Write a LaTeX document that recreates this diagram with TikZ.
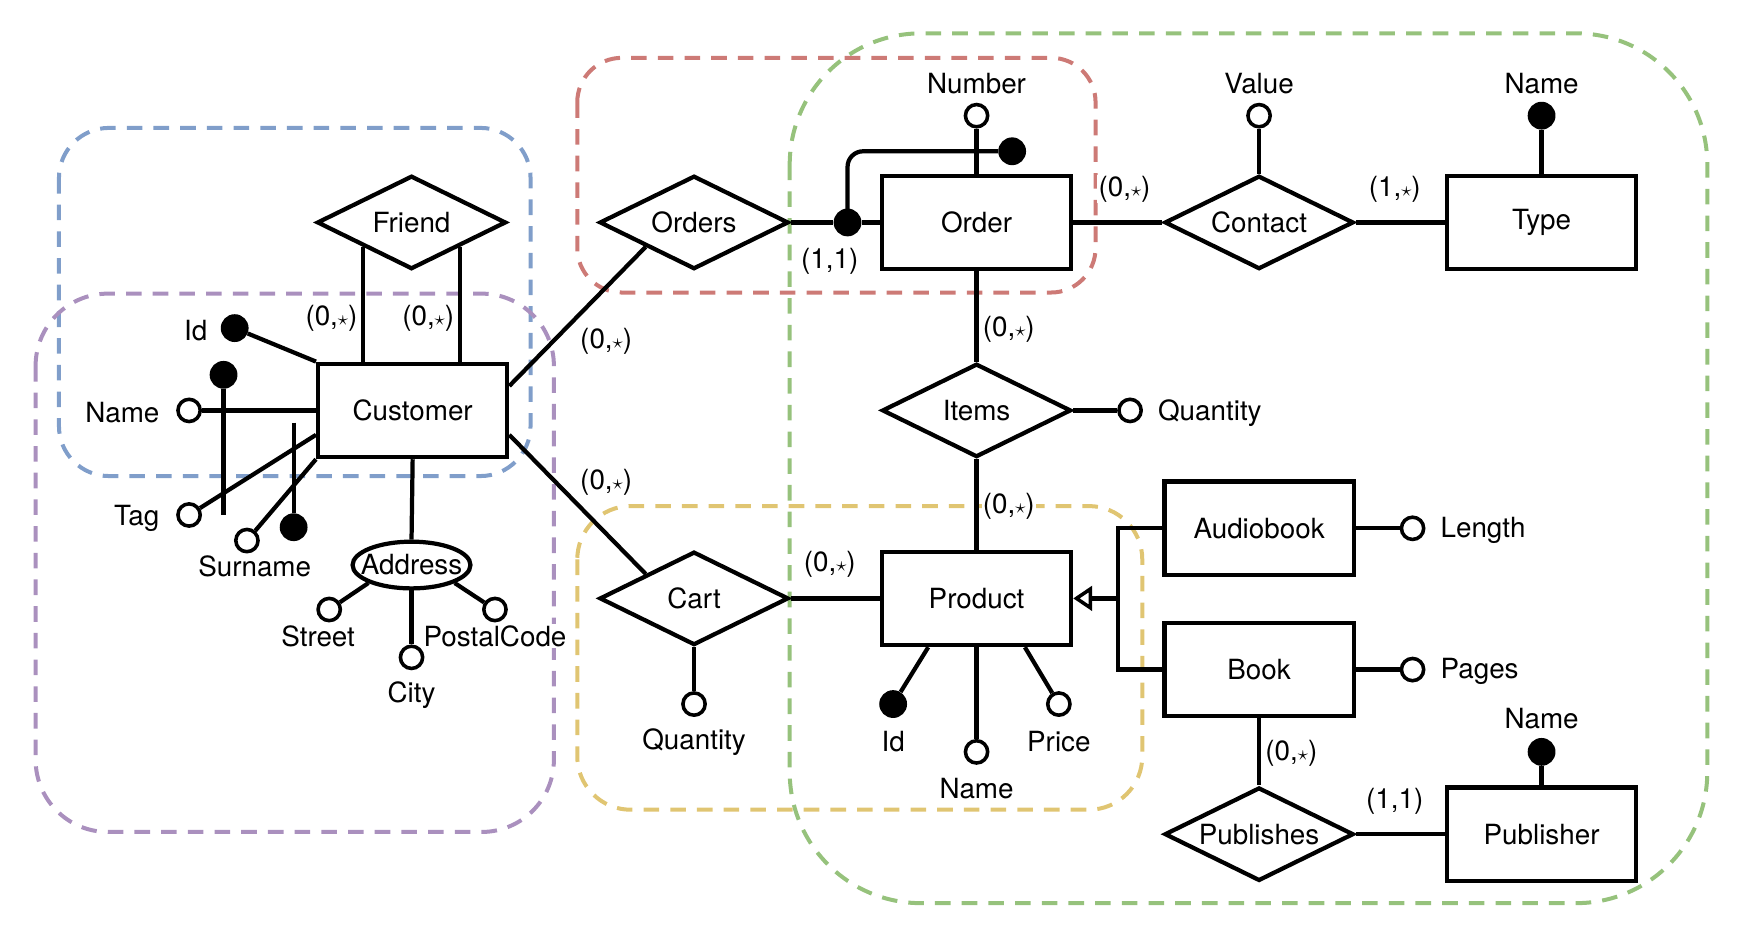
\documentclass[tikz,border=0pt]{standalone}
\usepackage{fontspec}
\usepackage{graphicx}
\setmainfont{TeX Gyre Heros}
\usetikzlibrary{shapes.geometric,arrows.meta,calc}
\definecolor{fblue}{RGB}{128,158,202}
\definecolor{fpurple}{RGB}{170,144,190}
\definecolor{fred}{RGB}{205,122,118}
\definecolor{fgreen}{RGB}{150,194,124}
\definecolor{fyellow}{RGB}{224,197,114}
\newcommand{\cz}{(0,\scalebox{0.75}{$\star$})}
\newcommand{\co}{(1,\scalebox{0.75}{$\star$})}
\begin{document}
\begin{tikzpicture}[x=1pt,y=-1pt,
  every node/.style={font=\fontsize{25}{30}\selectfont},
  ln/.style={line width=3.8pt},
  entity/.style={draw,line width=3.8pt,rectangle,minimum width=170pt,minimum height=84pt,inner sep=0pt},
  rel/.style={draw,line width=3.8pt,diamond,aspect=2,minimum width=170pt,minimum height=84pt,inner sep=0pt},
  oattr/.style={draw,circle,fill=white,line width=3.2pt,minimum size=20pt,inner sep=0pt},
  kattr/.style={circle,fill=black,minimum size=25pt,inner sep=0pt},
  lbl/.style={fill=white,inner sep=1pt},
  frame/.style={line width=3.6pt,dash pattern=on 14pt off 10pt}]
\useasboundingbox (0,0) rectangle (1568,843);
% frames
\draw[frame,fblue,rounded corners=45pt] (53,115) rectangle (477,428);
\draw[frame,fpurple,rounded corners=65pt] (32,264) rectangle (498,748);
\draw[frame,fred,rounded corners=40pt] (519,52) rectangle (985,263);
\draw[frame,fgreen,rounded corners=118pt] (710,30) rectangle (1535,812);
\draw[frame,fyellow,rounded corners=48pt] (519,455) rectangle (1027,728);
% entities
\node[entity] (cust) at (371,369) {Customer};
\node[entity] (order) at (878,200) {Order};
\node[entity] (type) at (1386,200) {Type};
\node[entity] (prod) at (878,538) {Product};
\node[entity] (audio) at (1132,475) {Audiobook};
\node[entity] (book) at (1132,602) {Book};
\node[entity] (pub) at (1386,750) {Publisher};
% relationships
\node[rel] (friend) at (370,200) {Friend};
\node[rel] (orders) at (624,200) {Orders};
\node[rel] (contact) at (1132,200) {Contact};
\node[rel] (items) at (878,369) {Items};
\node[rel] (cart) at (624,538) {Cart};
\node[rel] (publishes) at (1132,750) {Publishes};
% composite attribute
\node[draw,ellipse,line width=3.8pt,minimum width=106pt,minimum height=42pt,inner sep=0pt] (addr) at (370,508) {};
\node (addrt) at (addr.center) {Address};
% attribute circles
\node[kattr] (cid) at (211,295) {};
\node[kattr] (ck1) at (201,337) {};
\node[oattr] (cname) at (170,369) {};
\node[oattr] (ctag) at (170,463) {};
\node[oattr] (csur) at (222,486) {};
\node[kattr] (ck2) at (264,474) {};
\node[oattr] (street) at (296,548) {};
\node[oattr] (city) at (370,591) {};
\node[oattr] (postal) at (445,548) {};
\node[oattr] (onum) at (878,104) {};
\node[kattr] (ok1) at (762,200) {};
\node[kattr] (ok2) at (910,136) {};
\node[oattr] (cval) at (1132,104) {};
\node[kattr] (tname) at (1386,104) {};
\node[oattr] (iqty) at (1016,369) {};
\node[oattr] (cqty) at (624,633) {};
\node[kattr] (pid) at (803,633) {};
\node[oattr] (pname) at (878,676) {};
\node[oattr] (pprice) at (952,633) {};
\node[oattr] (alen) at (1270,475) {};
\node[oattr] (bpages) at (1270,602) {};
\node[kattr] (pubname) at (1386,676) {};
\coordinate (ck1end) at (201,463);
\coordinate (ck2end) at (264,380);
\coordinate (gen) at (1005,538);
% labels
\node[lbl] (l1) at (176,297) {Id};
\node[lbl] (l2) at (110,371) {Name};
\node[lbl] (l3) at (123,466) {Tag};
\node[lbl] (l4) at (229,509) {Surname};
\node[lbl] (l5) at (286,572) {Street};
\node[lbl] (l6) at (370,625) {City};
\node[lbl] (l7) at (445,572) {PostalCode};
\node[lbl] (l8) at (298,286) {\cz};
\node[lbl] (l9) at (385,286) {\cz};
\node[lbl] (l10) at (545,307) {\cz};
\node[lbl] (l11) at (545,434) {\cz};
\node[lbl] (l12) at (878,75) {Number};
\node[lbl] (l13) at (746,235) {(1,1)};
\node[lbl] (l14) at (1011,170) {\cz};
\node[lbl] (l15) at (1132,75) {Value};
\node[lbl] (l16) at (1254,170) {\co};
\node[lbl] (l17) at (1386,75) {Name};
\node[lbl] (l18) at (907,296) {\cz};
\node[lbl] (l19) at (907,455) {\cz};
\node[lbl,anchor=west] (l20) at (1040,371) {Quantity};
\node[lbl] (l21) at (746,507) {\cz};
\node[lbl] (l22) at (624,667) {Quantity};
\node[lbl] (l23) at (803,667) {Id};
\node[lbl] (l24) at (878,709) {Name};
\node[lbl] (l25) at (952,667) {Price};
\node[lbl,anchor=west] (l26) at (1294,477) {Length};
\node[lbl,anchor=west] (l27) at (1294,604) {Pages};
\node[lbl] (l28) at (1161,677) {\cz};
\node[lbl] (l29) at (1254,720) {(1,1)};
\node[lbl] (l30) at (1386,646) {Name};
% connectors
\draw[ln] (cid) -- (cust.north west);
\draw[ln] (cname) -- (cust.west);
\draw[ln] (ctag) -- ($(cust.north west)!0.75!(cust.south west)$);
\draw[ln] (csur) -- (cust.south west);
\draw[ln] (ck1) -- (ck1end);
\draw[ln] (ck2end) -- (ck2);
\draw[ln] (friend.south west) -- (friend.south west |- cust.north);
\draw[ln] (friend.south east) -- (friend.south east |- cust.north);
\draw[ln] ($(cust.north east)!0.25!(cust.south east)$) -- (orders.south west);
\draw[ln] ($(cust.north east)!0.75!(cust.south east)$) -- (cart.north west);
\draw[ln] (cust.south) -- (addr.north);
\draw[ln] (addr.south west) -- (street);
\draw[ln] (addr.south) -- (city);
\draw[ln] (addr.south east) -- (postal);
\draw[ln] (orders.east) -- (ok1) -- (order.west);
\draw[ln,rounded corners=14pt] (ok1.center) |- (ok2);
\draw[ln] (onum) -- (order.north);
\draw[ln] (order.east) -- (contact.west);
\draw[ln] (contact.east) -- (type.west);
\draw[ln] (cval) -- (contact.north);
\draw[ln] (tname) -- (type.north);
\draw[ln] (order.south) -- (items.north);
\draw[ln] (items.east) -- (iqty);
\draw[ln] (items.south) -- (prod.north);
\draw[ln] (cart.east) -- (prod.west);
\draw[ln] (cart.south) -- (cqty);
\draw[ln] ($(prod.south west)!0.25!(prod.south east)$) -- (pid);
\draw[ln] (prod.south) -- (pname);
\draw[ln] ($(prod.south west)!0.75!(prod.south east)$) -- (pprice);
\draw[ln] (audio.west) -| (gen) |- (book.west);
\draw[ln,-{Triangle[open,length=17pt,width=22pt,line width=3.2pt]}] (gen) -- (prod.east);
\draw[ln] (audio.east) -- (alen);
\draw[ln] (book.east) -- (bpages);
\draw[ln] (book.south) -- (publishes.north);
\draw[ln] (publishes.east) -- (pub.west);
\draw[ln] (pubname) -- (pub.north);
\end{tikzpicture}
\end{document}
